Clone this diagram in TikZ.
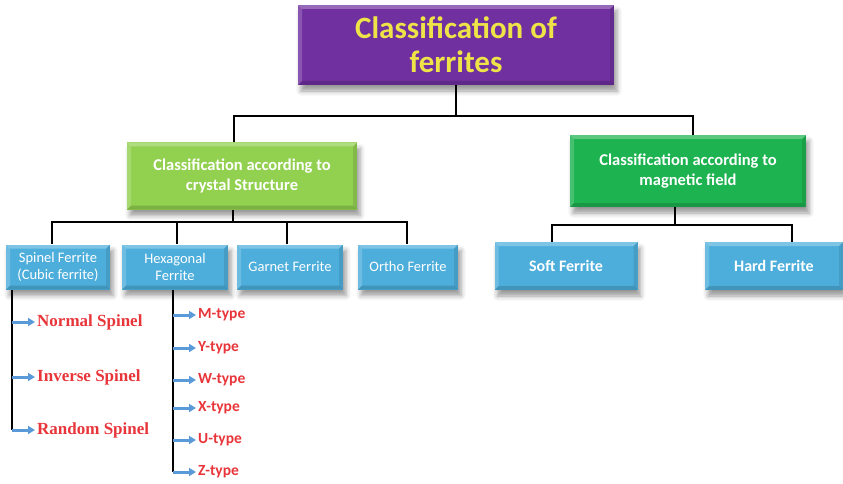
\documentclass[tikz,border=0pt]{standalone}
\usepackage{fontspec}
\setmainfont{Carlito}
\newfontfamily\serifred{Liberation Serif}
\usetikzlibrary{shadows.blur,arrows.meta,calc}
\definecolor{tpurple}{HTML}{7030A0}
\definecolor{tyellow}{HTML}{EEE448}
\definecolor{lgreen}{HTML}{92D050}
\definecolor{dgreen}{HTML}{1DB350}
\definecolor{tblue}{HTML}{4DAEDB}
\definecolor{tred}{HTML}{E8353A}
\definecolor{abl}{HTML}{5A9AD8}
\tikzset{
  bevel/.style={path picture={
    \fill[white,opacity=0.28] (path picture bounding box.north west) -- (path picture bounding box.north east) -- ([xshift=-4pt,yshift=-4pt]path picture bounding box.north east) -- ([xshift=4pt,yshift=-4pt]path picture bounding box.north west) -- cycle;
    \fill[white,opacity=0.18] (path picture bounding box.north west) -- (path picture bounding box.south west) -- ([xshift=4pt,yshift=4pt]path picture bounding box.south west) -- ([xshift=4pt,yshift=-4pt]path picture bounding box.north west) -- cycle;
    \fill[black,opacity=0.15] (path picture bounding box.south west) -- (path picture bounding box.south east) -- ([xshift=-4pt,yshift=4pt]path picture bounding box.south east) -- ([xshift=4pt,yshift=4pt]path picture bounding box.south west) -- cycle;
    \fill[black,opacity=0.10] (path picture bounding box.north east) -- (path picture bounding box.south east) -- ([xshift=-4pt,yshift=4pt]path picture bounding box.south east) -- ([xshift=-4pt,yshift=-4pt]path picture bounding box.north east) -- cycle;
  }},
  box/.style={rectangle, bevel, align=center, inner sep=2pt,
    blur shadow={shadow xshift=3pt, shadow yshift=-6pt, shadow blur radius=5pt, shadow opacity=40}},
  titlebox/.style={box, fill=tpurple, text=tyellow, font=\fontsize{31}{34}\selectfont\bfseries, minimum width=316pt, minimum height=80pt},
  gbox/.style={box, text=white, font=\fontsize{16.5}{20}\selectfont\bfseries},
  bbox/.style={box, fill=tblue, text=white, font=\fontsize{14.5}{17}\selectfont, minimum height=45pt},
  conn/.style={line width=2.6pt, black},
  arr/.style={line width=3pt, abl, -{Triangle[length=7pt,width=8pt]}},
  spitem/.style={anchor=west, inner sep=2pt, text=tred, font=\serifred\fontsize{17}{19}\selectfont\bfseries},
  hxitem/.style={anchor=west, inner sep=2pt, text=tred, font=\fontsize{15.5}{18}\selectfont\bfseries},
}
\begin{document}
\begin{tikzpicture}[x=1pt,y=-1pt]
\useasboundingbox (0,0) rectangle (843,484);
\coordinate (j1) at (456,116);
\coordinate (j2) at (233,222);
\coordinate (j3) at (675,225);
\node[titlebox] (title) at (456,45) {Classification of\\ferrites};
\node[gbox, fill=lgreen, minimum width=230pt, minimum height=67pt] (lg) at (242,176) {Classification according to\\crystal Structure};
\node[gbox, fill=dgreen, minimum width=236pt, minimum height=72pt] (rg) at (688,171) {Classification according to\\magnetic field};
\node[bbox, minimum width=104pt] (sp) at (58,267) {Spinel Ferrite\\(Cubic ferrite)};
\node[bbox, minimum width=106pt] (hx) at (175,267) {Hexagonal\\Ferrite};
\node[bbox, minimum width=106pt] (ga) at (290,267) {Garnet Ferrite};
\node[bbox, minimum width=100pt] (or) at (408,267) {Ortho Ferrite};
\node[bbox, font=\fontsize{16}{19}\selectfont\bfseries, minimum width=143pt, minimum height=48pt] (so) at (566,266) {Soft Ferrite};
\node[bbox, font=\fontsize{16}{19}\selectfont\bfseries, minimum width=138pt, minimum height=48pt] (ha) at (774,266) {Hard Ferrite};
% level connectors
\draw[conn] (title.south) -- (j1);
\draw[conn] ([xshift=-8pt]lg.north) |- (j1) -| ([xshift=5pt]rg.north);
\draw[conn] (j2 |- lg.south) -- (j2);
\draw[conn] ([xshift=-6pt]sp.north) |- (j2) -| ([xshift=-1pt]or.north);
\draw[conn] ([xshift=2pt]hx.north) -- ([xshift=2pt]hx.north |- j2);
\draw[conn] ([xshift=-3pt]ga.north) -- ([xshift=-3pt]ga.north |- j2);
\draw[conn] (j3 |- rg.south) -- (j3);
\draw[conn] ([xshift=-14pt]so.north) |- (j3) -| ([xshift=18pt]ha.north);
% spinel sub-list
\coordinate (sl) at (12,290);
\node[spitem] (n1) at (35,322) {Normal Spinel};
\node[spitem] (n2) at (35,377) {Inverse Spinel};
\node[spitem] (n3) at (35,430) {Random Spinel};
\draw[conn] (sl |- sp.south) -- (sl |- n3.west);
\draw[arr] (sl |- n1.west) -- (n1.west);
\draw[arr] (sl |- n2.west) -- (n2.west);
\draw[arr] (sl |- n3.west) -- (n3.west);
% hexagonal sub-list
\coordinate (hl) at (173,290);
\node[hxitem] (m1) at (196,315) {M-type};
\node[hxitem] (m2) at (196,348) {Y-type};
\node[hxitem] (m3) at (196,380) {W-type};
\node[hxitem] (m4) at (196,408) {X-type};
\node[hxitem] (m5) at (196,440) {U-type};
\node[hxitem] (m6) at (196,472) {Z-type};
\draw[conn] (hl |- hx.south) -- (hl |- m6.west);
\foreach \m in {m1,m2,m3,m4,m5,m6}{
  \draw[arr] (hl |- \m.west) -- (\m.west);
}
\end{tikzpicture}
\end{document}
